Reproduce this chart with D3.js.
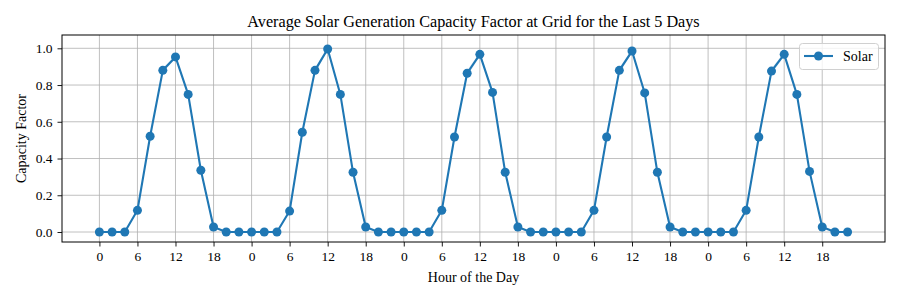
<!DOCTYPE html>
<html><head><meta charset="utf-8">
<script src="https://cdn.jsdelivr.net/npm/d3@7"></script>
<style>body{margin:0;background:#fff}svg{display:block}</style>
</head><body>
<svg id="c" width="900" height="300"></svg>
<script>
// hours since start (2-hour steps over 5 days)
const hours = d3.range(0, 120, 2);
const solar = [
  0, 0, 0, 0.118, 0.521, 0.880, 0.953, 0.749, 0.336, 0.027, 0, 0,
  0, 0, 0, 0.114, 0.543, 0.880, 0.996, 0.749, 0.325, 0.027, 0, 0,
  0, 0, 0, 0.118, 0.517, 0.864, 0.967, 0.760, 0.325, 0.027, 0, 0,
  0, 0, 0, 0.118, 0.517, 0.880, 0.985, 0.757, 0.325, 0.027, 0, 0,
  0, 0, 0, 0.118, 0.517, 0.876, 0.967, 0.749, 0.330, 0.027, 0, 0
];
const spread = [
  0, 0, 0, 0.003, 0.006, 0.012, 0.008, 0.006, 0.004, 0, 0, 0,
  0, 0, 0, 0.003, 0.006, 0.014, 0.010, 0.006, 0.004, 0, 0, 0,
  0, 0, 0, 0.003, 0.006, 0.016, 0.010, 0.006, 0.004, 0, 0, 0,
  0, 0, 0, 0.003, 0.006, 0.014, 0.010, 0.006, 0.004, 0, 0, 0,
  0, 0, 0, 0.003, 0.006, 0.014, 0.010, 0.006, 0.004, 0, 0, 0
];
const xTicks = d3.range(0, 120, 6);
const yTicks = [0, 0.2, 0.4, 0.6, 0.8, 1.0];

const L = 62, R = 885, T = 35, B = 242;
const svg = d3.select("#c");
const font = "'Liberation Serif', 'Times New Roman', serif";
const x = d3.scaleLinear().domain([-5.9, 123.9]).range([L, R]);
const y = d3.scaleLinear().domain([0, 1]).range([232, 48.3]);
const blue = "#1f77b4";

// grid
const g = svg.append("g");
g.selectAll("line.gx").data(xTicks).join("line")
  .attr("x1", d => x(d)).attr("x2", d => x(d)).attr("y1", T).attr("y2", B)
  .attr("stroke", "#b0b0b0").attr("stroke-width", 0.8);
g.selectAll("line.gy").data(yTicks).join("line")
  .attr("y1", d => y(d)).attr("y2", d => y(d)).attr("x1", L).attr("x2", R)
  .attr("stroke", "#b0b0b0").attr("stroke-width", 0.8);

// band
const area = d3.area().x((d, i) => x(hours[i]))
  .y0((d, i) => y(solar[i] - spread[i])).y1((d, i) => y(solar[i] + spread[i]));
svg.append("path").datum(solar).attr("d", area).attr("fill", blue).attr("fill-opacity", 0.2);

// line
const line = d3.line().x((d, i) => x(hours[i])).y(d => y(d));
svg.append("path").datum(solar).attr("d", line).attr("fill", "none")
  .attr("stroke", blue).attr("stroke-width", 2.1).attr("stroke-linejoin", "round");
svg.selectAll("circle.pt").data(solar).join("circle")
  .attr("cx", (d, i) => x(hours[i])).attr("cy", d => y(d)).attr("r", 4.5).attr("fill", blue);

// axes
const xAxis = d3.axisBottom(x).tickValues(xTicks).tickFormat(d => String(d % 24))
  .tickSizeInner(4.5).tickSizeOuter(0).tickPadding(5);
const gx = svg.append("g").attr("transform", `translate(0,${B})`).call(xAxis);
const yAxis = d3.axisLeft(d3.scaleLinear().domain(y.domain()).range(y.range()))
  .tickValues(yTicks).tickFormat(d3.format(".1f")).tickSizeInner(4.5).tickSizeOuter(0).tickPadding(5);
const gy = svg.append("g").attr("transform", `translate(${L},0)`).call(yAxis);
[gx, gy].forEach(a => {
  a.attr("font-family", font);
  a.select(".domain").remove();
  a.selectAll("line").attr("stroke", "#000").attr("stroke-width", 0.9);
  a.selectAll("text").attr("font-family", font).attr("font-size", 13.5).attr("fill", "#000");
});

// frame
svg.append("rect").attr("x", L).attr("y", T).attr("width", R - L).attr("height", B - T)
  .attr("fill", "none").attr("stroke", "#000").attr("stroke-width", 1);

// titles
svg.append("text").attr("x", (L + R) / 2).attr("y", 27).attr("text-anchor", "middle")
  .attr("font-family", font).attr("font-size", 16.2).text("Average Solar Generation Capacity Factor at Grid for the Last 5 Days");
svg.append("text").attr("x", (L + R) / 2).attr("y", 282).attr("text-anchor", "middle")
  .attr("font-family", font).attr("font-size", 14).text("Hour of the Day");
svg.append("text").attr("transform", `translate(26,${(T + B) / 2}) rotate(-90)`).attr("text-anchor", "middle")
  .attr("font-family", font).attr("font-size", 14).text("Capacity Factor");

// legend
const lg = svg.append("g");
lg.append("rect").attr("x", 799.5).attr("y", 43.5).attr("width", 79).attr("height", 26).attr("rx", 3)
  .attr("fill", "#fff").attr("fill-opacity", 0.8).attr("stroke", "#d0d0d0").attr("stroke-width", 1);
lg.append("line").attr("x1", 804).attr("x2", 833).attr("y1", 56).attr("y2", 56)
  .attr("stroke", blue).attr("stroke-width", 2.1);
lg.append("circle").attr("cx", 818.5).attr("cy", 56).attr("r", 4.5).attr("fill", blue);
lg.append("text").attr("x", 843).attr("y", 61).attr("font-family", font).attr("font-size", 14).text("Solar");
</script>
</body></html>
